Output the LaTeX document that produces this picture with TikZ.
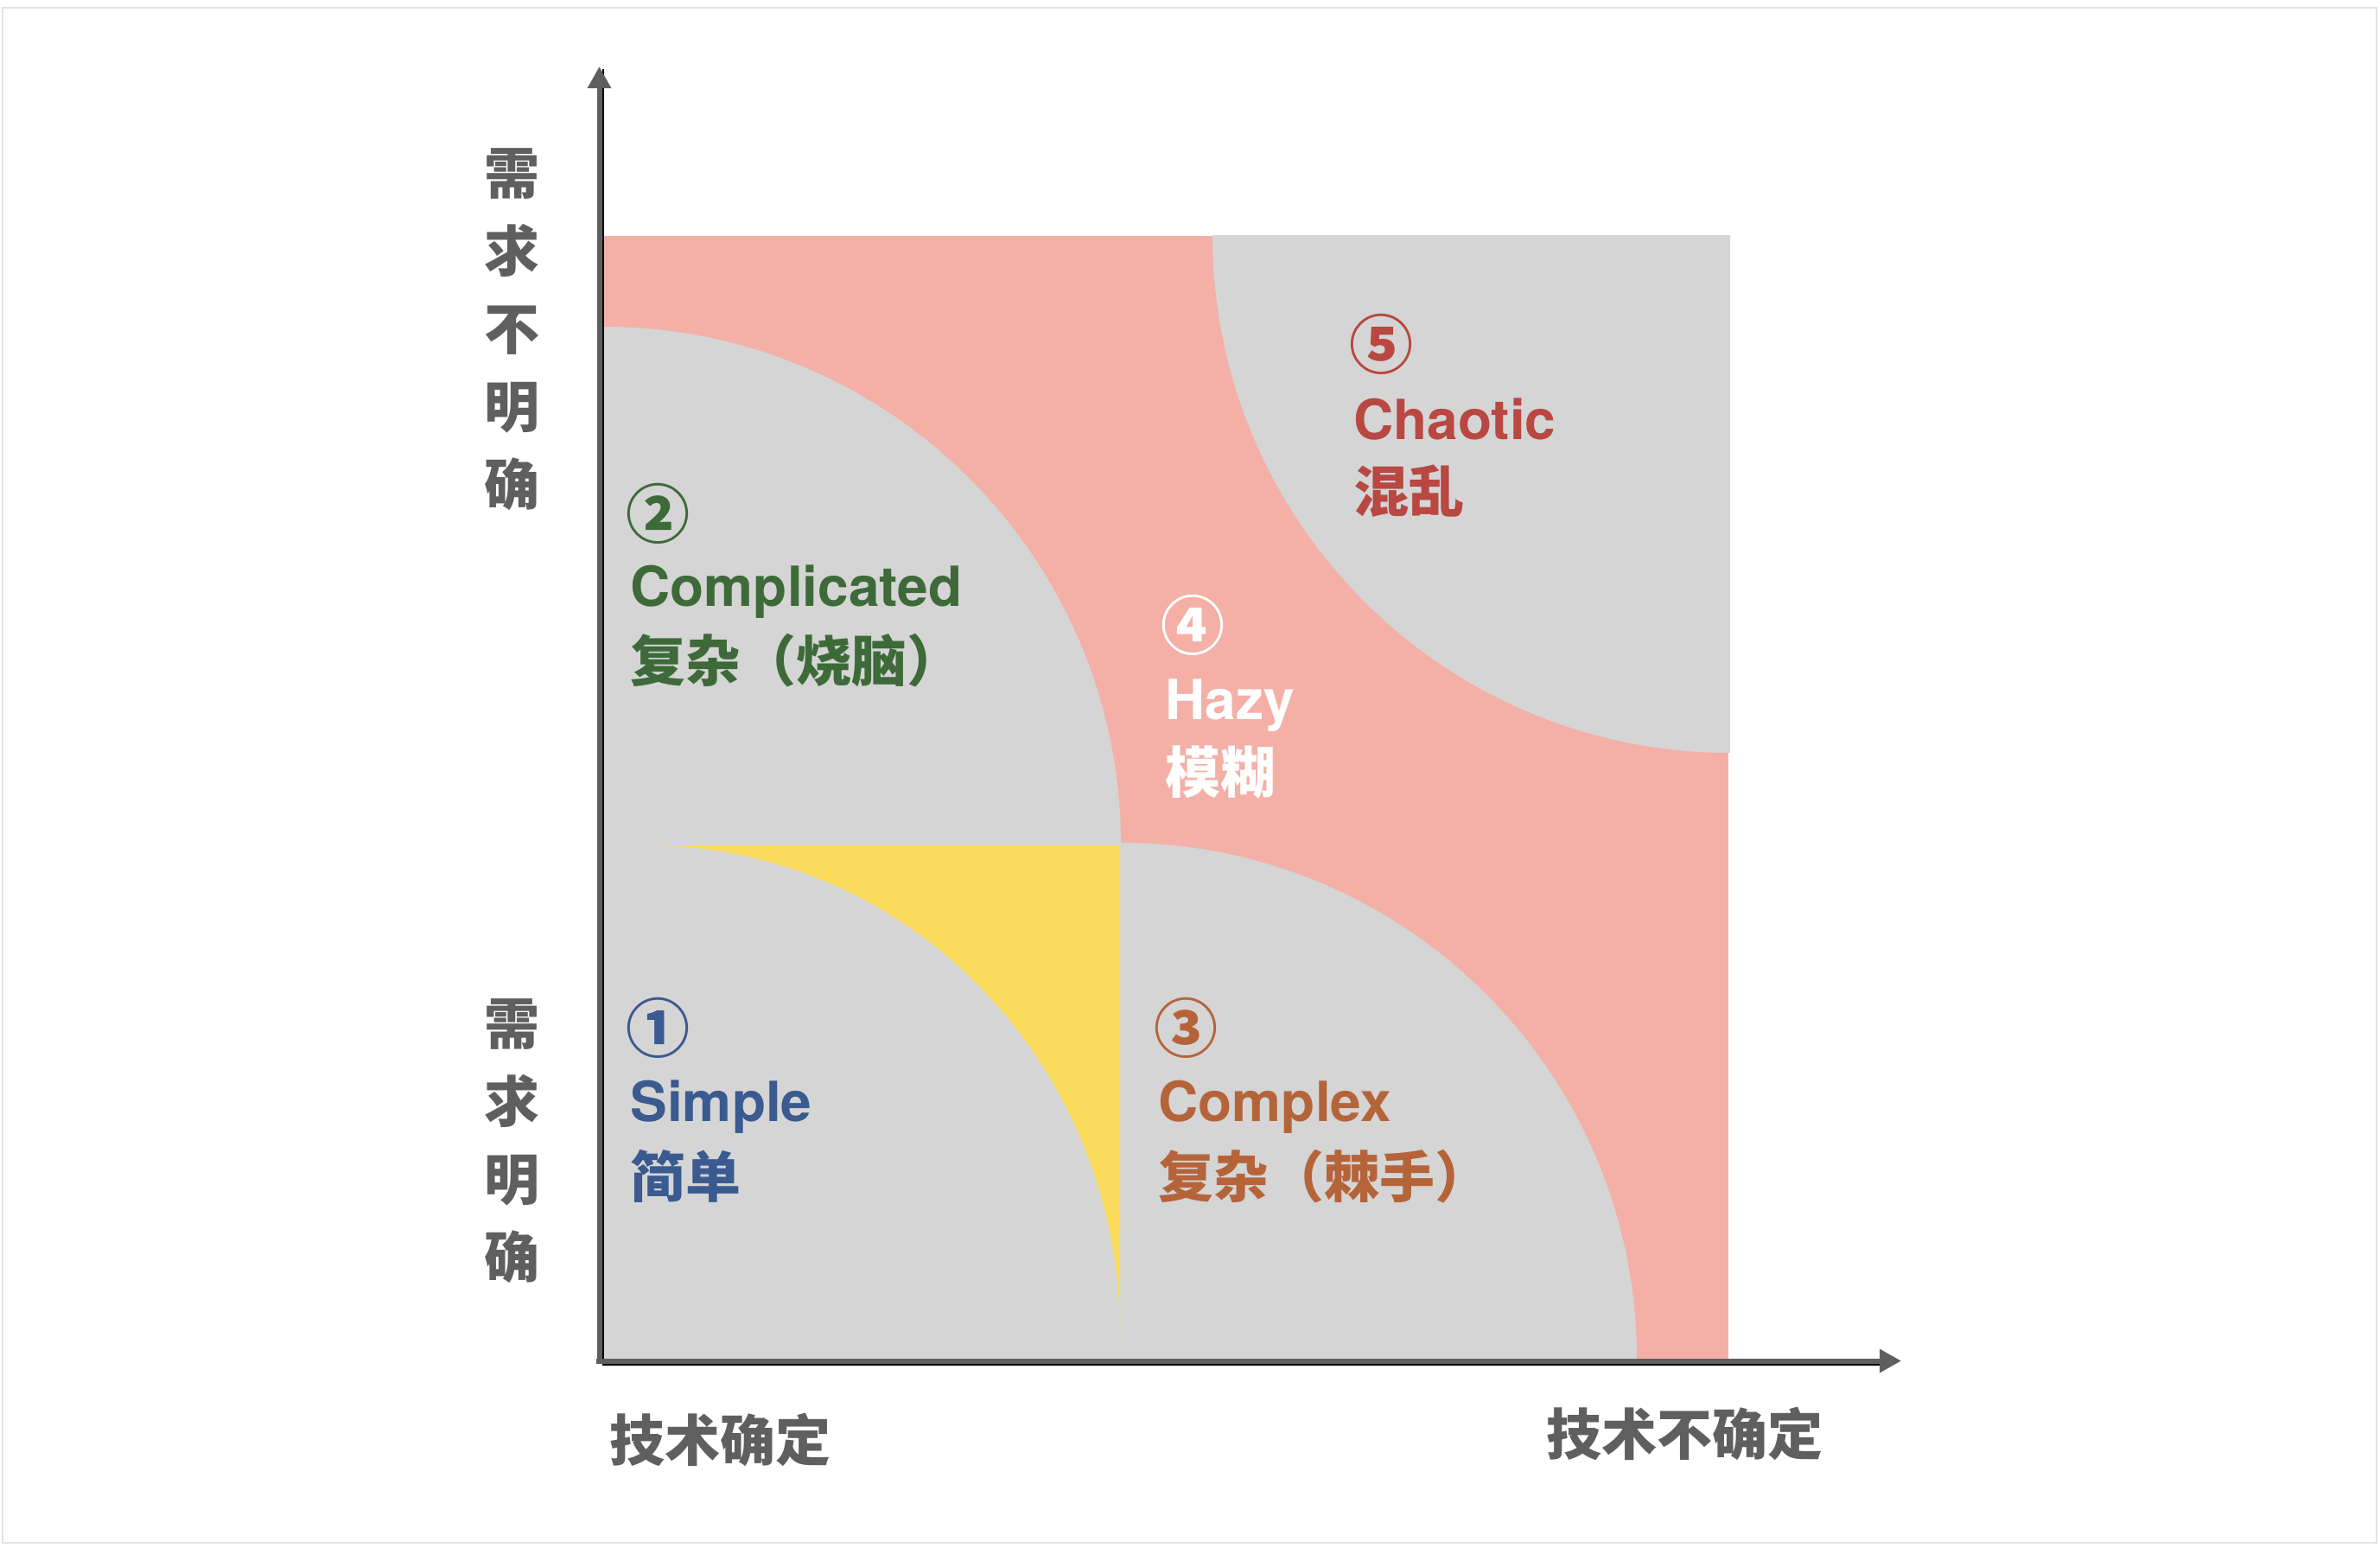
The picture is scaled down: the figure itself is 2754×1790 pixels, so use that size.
\documentclass[tikz,border=0pt]{standalone}
\usepackage{fontspec}
\setmainfont{TeX Gyre Heros}
\newfontfamily\cjk{Noto Sans CJK SC}
\usetikzlibrary{arrows.meta}
\definecolor{pinkbg}{HTML}{F4B0A7}
\definecolor{graybg}{HTML}{D5D5D5}
\definecolor{yellowbg}{HTML}{F9DA5B}
\definecolor{greentx}{HTML}{3E6A3A}
\definecolor{redtx}{HTML}{B94742}
\definecolor{bluetx}{HTML}{3A5A90}
\definecolor{orangetx}{HTML}{B5643A}
\definecolor{axisgray}{HTML}{5F5F5F}
\definecolor{framegray}{HTML}{E3E3E3}
\begin{document}
\begin{tikzpicture}[x=0.5pt,y=-0.5pt,
  lat/.style={anchor=base west,inner sep=0pt,font=\fontsize{32pt}{38pt}\selectfont\bfseries},
  han/.style={anchor=base west,inner sep=0pt,font=\fontsize{32pt}{38pt}\selectfont\cjk\bfseries},
  circ/.style={anchor=base west,inner sep=0pt,font=\fontsize{37pt}{44pt}\selectfont\cjk\bfseries},
  axlabel/.style={anchor=base,inner sep=0pt,text=axisgray,font=\fontsize{32pt}{38pt}\selectfont\cjk\bfseries},
  vlabel/.style={anchor=center,inner sep=0pt,align=center,text=axisgray,font=\fontsize{32pt}{45pt}\selectfont\cjk\bfseries},
  axisline/.style={draw=axisgray,line width=3pt,-{Triangle[length=12.5pt,width=13pt]}},
  thinline/.style={draw=black,line width=1pt}]
\useasboundingbox (0,0) rectangle (2754,1790);
% frame
\draw[framegray,line width=1pt] (3,8.5) rectangle (2750,1785);
% background regions
\fill[pinkbg] (699,273) rectangle (2000,1572);
\fill[graybg] (2002,272) -- (1403,272) arc[start angle=180,end angle=90,radius=599] -- cycle;
\fill[graybg] (698,977) -- (698,378) arc[start angle=270,end angle=360,radius=599] -- cycle;
\fill[graybg] (698,977) rectangle (1297,1572);
\fill[yellowbg] (748,978) -- (1296,978) -- (1296,1543) arc[start angle=0,end angle=-90,x radius=548,y radius=565] -- cycle;
\fill[graybg] (1297,1572) -- (1297,975) arc[start angle=270,end angle=360,radius=597] -- cycle;
% axes
\coordinate (ybot) at (693.5,1577);
\coordinate (ytip) at (693.5,77);
\coordinate (xleft) at (690,1574.5);
\coordinate (xtip) at (2200,1574.5);
\coordinate (bvbot) at (697.5,1578);
\coordinate (bvtop) at (697.5,80);
\coordinate (bhleft) at (697,1578.5);
\coordinate (bhright) at (2190,1578.5);
\draw[thinline] (bvbot) -- (bvtop);
\draw[thinline] (bhleft) -- (bhright);
\draw[axisline] (ybot) -- (ytip);
\draw[axisline] (xleft) -- (xtip);
% axis labels
\node[vlabel] (yhigh) at (592,381) {需\\求\\不\\明\\确};
\node[vlabel] (ylow) at (592,1320) {需\\求\\明\\确};
\node[axlabel] (xlow) at (833,1690) {技术确定};
\node[axlabel] (xhigh) at (1949,1683) {技术不确定};
% 1 simple
\node[circ,text=bluetx] (n1) at (724,1217) {①};
\node[lat,text=bluetx] (simple) at (729,1297) {Simple};
\node[han,text=bluetx] (simplecn) at (729,1385) {简单};
% 2 complicated
\node[circ,text=greentx] (n2) at (724,622) {②};
\node[lat,text=greentx] (complicated) at (729,701) {Complicated};
\node[han,text=greentx] (complicatedcn) at (729,788) {复杂（烧脑）};
% 3 complex
\node[circ,text=orangetx] (n3) at (1335,1217) {③};
\node[lat,text=orangetx] (complex) at (1340,1297) {Complex};
\node[han,text=orangetx] (complexcn) at (1340,1385) {复杂（棘手）};
% 4 hazy
\node[circ,text=white] (n4) at (1343,751) {④};
\node[lat,text=white] (hazy) at (1348,832) {Hazy};
\node[han,text=white] (hazycn) at (1348,917) {模糊};
% 5 chaotic
\node[circ,text=redtx] (n5) at (1561,426) {⑤};
\node[lat,text=redtx] (chaotic) at (1566,508) {Chaotic};
\node[han,text=redtx] (chaoticcn) at (1566,592) {混乱};
\end{tikzpicture}
\end{document}
